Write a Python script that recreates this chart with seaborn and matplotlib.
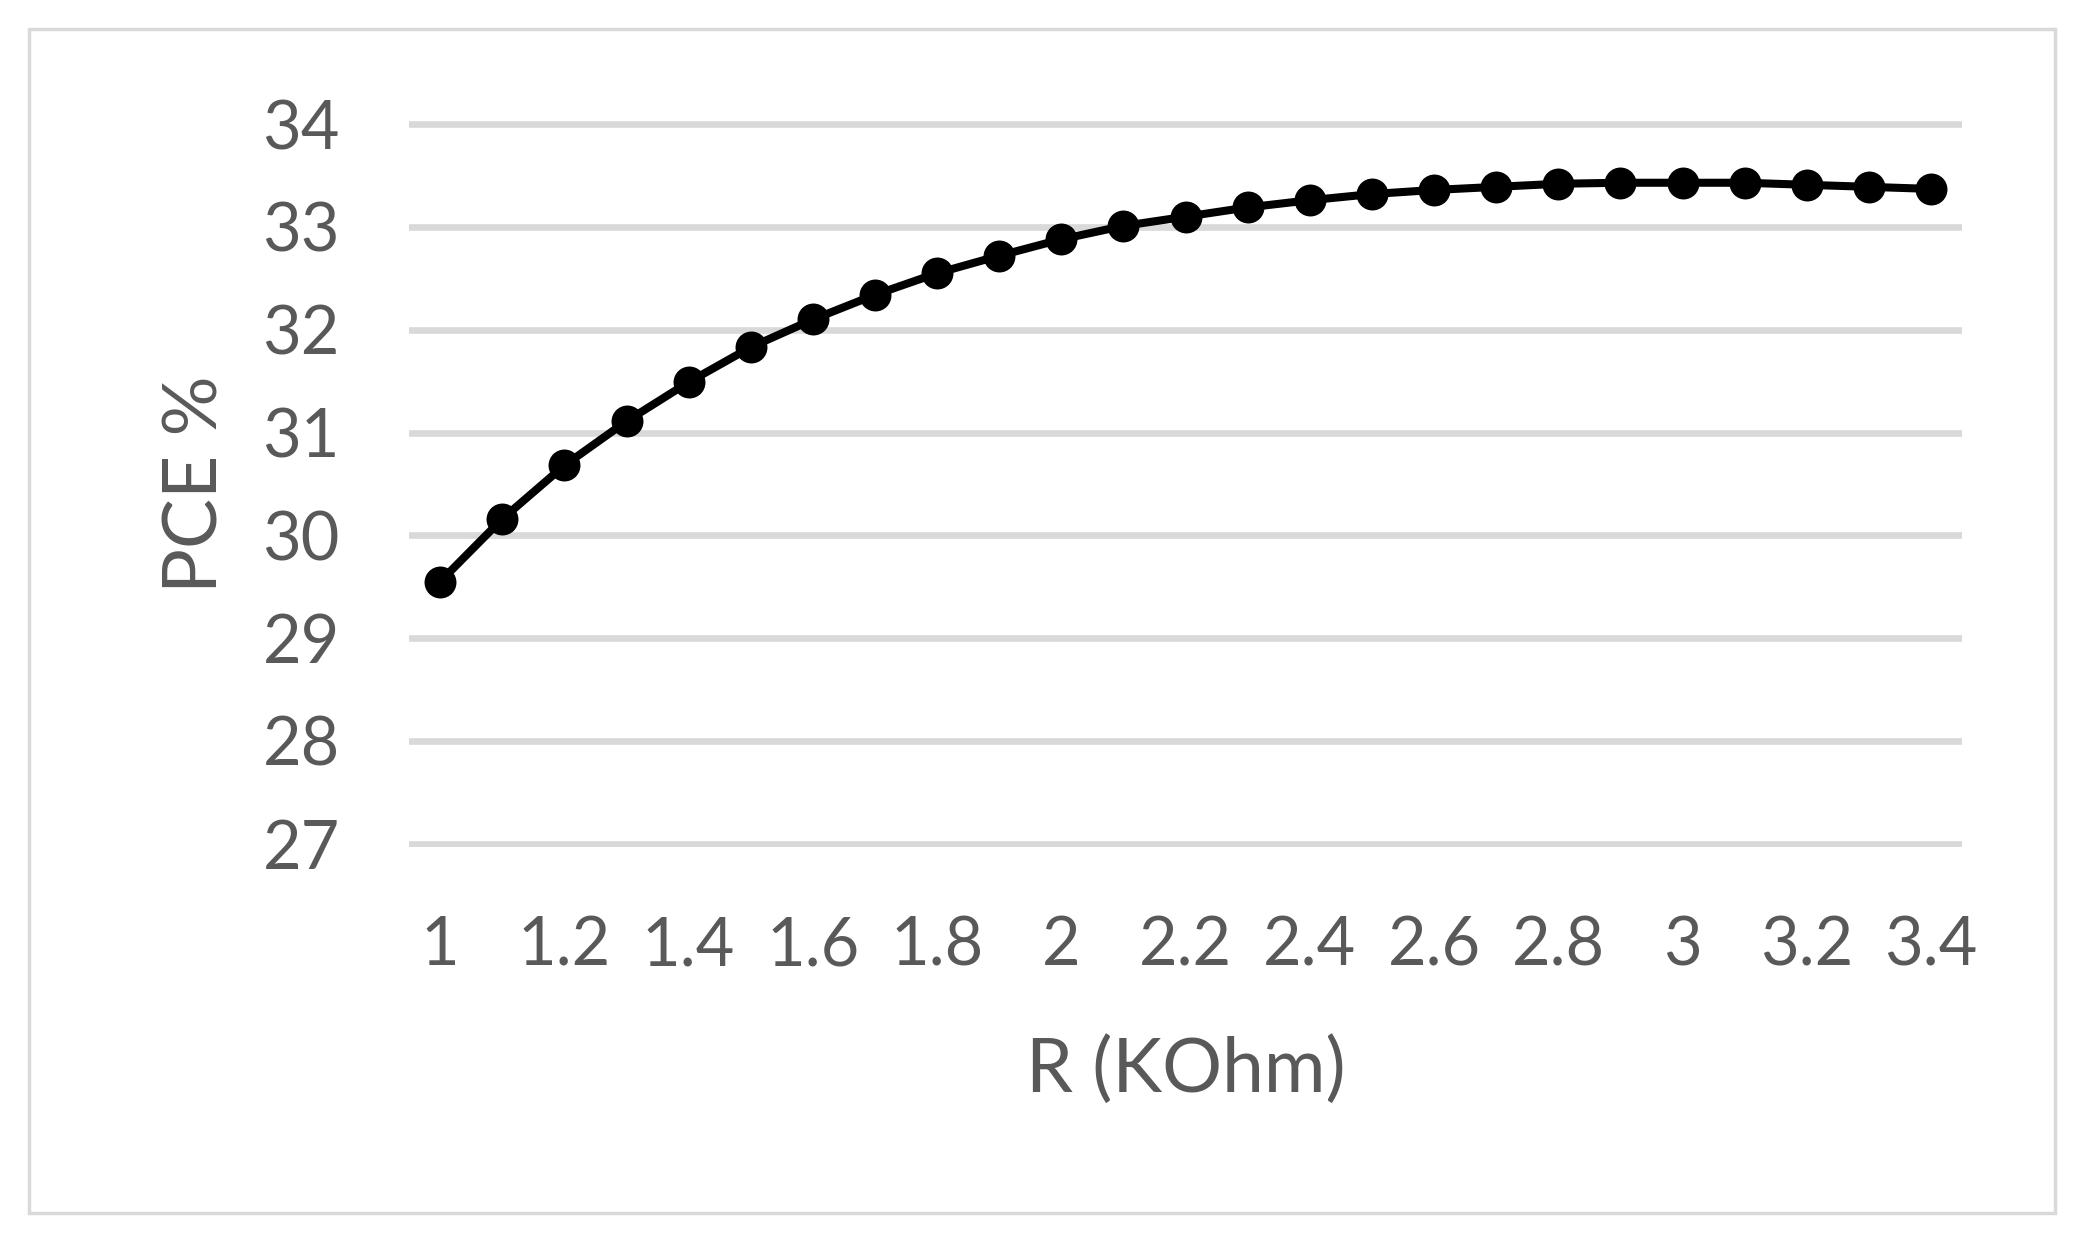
import seaborn as sns
import matplotlib.pyplot as plt
import matplotlib.patches as patches
import pandas as pd

# veri: direnc (KOhm) ve verim (PCE %)
r_values = [1.0, 1.1, 1.2, 1.3, 1.4, 1.5, 1.6, 1.7, 1.8, 1.9, 2.0, 2.1, 2.2,
            2.3, 2.4, 2.5, 2.6, 2.7, 2.8, 2.9, 3.0, 3.1, 3.2, 3.3, 3.4]
pce_values = [29.55, 30.16, 30.68, 31.11, 31.49, 31.83, 32.10, 32.34, 32.55,
              32.72, 32.88, 33.01, 33.10, 33.19, 33.26, 33.32, 33.36, 33.39,
              33.42, 33.43, 33.43, 33.43, 33.41, 33.39, 33.37]
x_ticks = [1.0, 1.2, 1.4, 1.6, 1.8, 2.0, 2.2, 2.4, 2.6, 2.8, 3.0, 3.2, 3.4]
x_tick_labels = ["1", "1.2", "1.4", "1.6", "1.8", "2", "2.2", "2.4", "2.6",
                 "2.8", "3", "3.2", "3.4"]
y_ticks = [27, 28, 29, 30, 31, 32, 33, 34]

df = pd.DataFrame({"R": r_values, "PCE": pce_values})

sns.set_theme(style="white")
plt.rcParams['font.family'] = ['Lato', 'DejaVu Sans']

text_color = "#595959"
grid_color = "#D9D9D9"

fig = plt.figure(figsize=(20.84, 12.39), dpi=100)
ax = fig.add_axes([0.1963, 0.3161, 0.7452, 0.5866])

ax.yaxis.grid(True, color=grid_color, linewidth=4.8)
ax.xaxis.grid(False)
ax.set_axisbelow(True)

sns.lineplot(data=df, x="R", y="PCE", ax=ax, color="black", linewidth=5.8,
             marker="o", markersize=23, markeredgewidth=0)

ax.set_xlim(0.95, 3.45)
ax.set_ylim(27 - 0.035, 34 + 0.035)
ax.set_yticks(y_ticks)
ax.set_yticklabels([str(v) for v in y_ticks])
ax.set_xticks(x_ticks)
ax.set_xticklabels(x_tick_labels)

for s in ax.spines.values():
    s.set_visible(False)

ax.tick_params(axis="both", length=0, labelsize=48, labelcolor=text_color)
ax.tick_params(axis="x", pad=49)
ax.tick_params(axis="y", pad=50)

ax.set_xlabel("R (KOhm)", fontsize=54, color=text_color)
ax.set_ylabel("PCE %", fontsize=54, color=text_color)
ax.xaxis.label.set_va("center")
ax.yaxis.label.set_va("center")
ax.xaxis.set_label_coords(0.5, -0.306)
ax.yaxis.set_label_coords(-0.137, 0.5)

# dis cerceve
fig.patches.append(patches.Rectangle((0.0139, 0.021), 0.9722, 0.9556,
                                     transform=fig.transFigure, fill=False,
                                     edgecolor=grid_color, linewidth=2.5))

fig.savefig("out.png", dpi=100, facecolor="white")
